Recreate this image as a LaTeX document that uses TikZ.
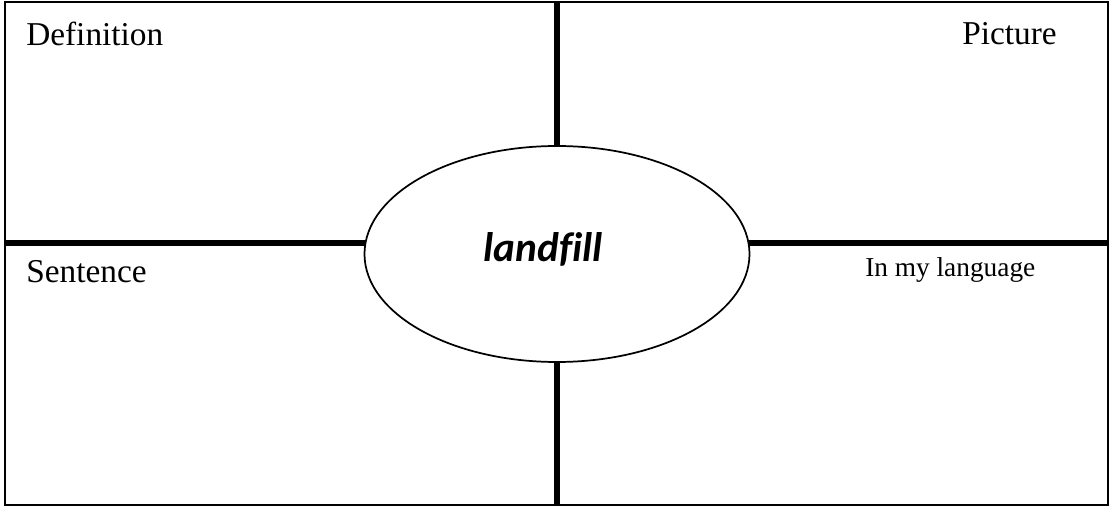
\documentclass[tikz,border=0pt]{standalone}
\usepackage{fontspec}
\setmainfont{Liberation Serif}
\newfontfamily\wordfont[Ligatures=NoCommon]{Carlito}
\usetikzlibrary{shapes.geometric}

\begin{document}
\begin{tikzpicture}[x=0.75pt,y=0.75pt,
  label/.style={inner sep=0pt,font=\fontsize{25}{30}\selectfont},
  divider/.style={line width=3.8pt}]
\def\xC{557}
\def\yC{253}
\def\yH{264}
\useasboundingbox (0,0) rectangle (1110,507);
% Frame
\draw[line width=1.2pt] (5,2) rectangle (1108,505);

% Centre word
\node[draw, ellipse, line width=1.3pt, inner sep=0pt,
  minimum width=288.75pt, minimum height=162pt] (word) at (\xC,\yC) {};
\node[anchor=base, inner sep=0pt,
  font=\wordfont\fontsize{31}{36}\selectfont\bfseries\itshape] (term) at (543,245) {landfill};

% Dividers
\coordinate (top) at (\xC,505);
\coordinate (bottom) at (\xC,2);
\coordinate (left) at (5,\yH);
\coordinate (right) at (1108,\yH);
\coordinate (leftend) at (366,\yH);
\coordinate (rightend) at (748,\yH);
\draw[divider] (top) -- (word.north);
\draw[divider] (word.south) -- (bottom);
\draw[divider] (left) -- (leftend);
\draw[divider] (rightend) -- (right);

% Corner labels
\node[label, anchor=base west] (def) at (26,461) {Definition};
\node[label, anchor=base east] (pic) at (1057,462) {Picture};
\node[label, anchor=base west] (sent) at (26,224) {Sentence};
\node[label, anchor=base west, font=\fontsize{20.5}{24}\selectfont] (lang) at (865,230) {In my language};

\end{tikzpicture}
\end{document}
